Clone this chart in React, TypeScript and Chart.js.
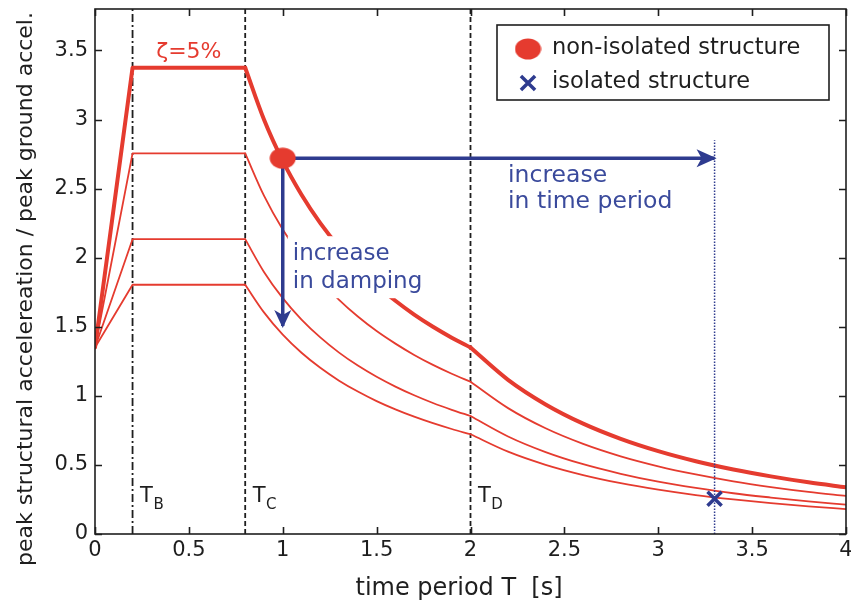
import React, { useEffect, useRef } from 'react';
import { Chart, registerables } from 'chart.js';
import { drawPoint } from 'chart.js/helpers';

Chart.register(...registerables);

// ---------- data ----------
const periods = [0, 0.2, 0.8, 0.9, 1.0, 1.1, 1.2, 1.3, 1.4, 1.5, 1.6, 1.7, 1.8, 1.9, 2.0, 2.2, 2.4, 2.6, 2.8, 3.0, 3.2, 3.4, 3.6, 3.8, 4.0];
const damping5 = [1.35, 3.375, 3.375, 3.0, 2.7, 2.455, 2.25, 2.077, 1.929, 1.8, 1.688, 1.588, 1.5, 1.421, 1.35, 1.116, 0.938, 0.799, 0.689, 0.6, 0.527, 0.467, 0.417, 0.374, 0.338];
const damping10 = [1.35, 2.755, 2.755, 2.449, 2.204, 2.004, 1.837, 1.695, 1.574, 1.469, 1.378, 1.296, 1.224, 1.16, 1.102, 0.911, 0.765, 0.652, 0.562, 0.49, 0.431, 0.381, 0.34, 0.305, 0.276];
const damping20 = [1.35, 2.134, 2.134, 1.897, 1.707, 1.552, 1.423, 1.313, 1.219, 1.138, 1.067, 1.004, 0.948, 0.899, 0.854, 0.706, 0.593, 0.505, 0.436, 0.379, 0.334, 0.295, 0.264, 0.236, 0.213];
const damping30 = [1.35, 1.804, 1.804, 1.604, 1.443, 1.312, 1.203, 1.11, 1.031, 0.962, 0.902, 0.849, 0.802, 0.76, 0.722, 0.596, 0.501, 0.427, 0.368, 0.321, 0.282, 0.25, 0.223, 0.2, 0.18];
const curveLabels = ['ζ=5%', 'ζ=10%', 'ζ=20%', 'ζ=30%'];

const cornerPeriods = [0.2, 0.8, 2.0];
const cornerNames = ['B', 'C', 'D'];

const nonIsolatedPoint = [1.0, 2.72];
const isolatedPoint = [3.3, 0.255];
const dampingArrowEnd = 1.505;
const periodLineTop = 2.85;

const xRange = [0, 4];
const yRange = [0, 3.8];
const xTickValues = [0, 0.5, 1, 1.5, 2, 2.5, 3, 3.5, 4];
const yTickValues = [0, 0.5, 1, 1.5, 2, 2.5, 3, 3.5];

const legendLabels = ['non-isolated structure', 'isolated structure'];
const dampingText = ['increase', 'in damping'];
const periodText = ['increase', 'in time period'];
const xTitle = 'time period T  [s]';
const yTitle = 'peak structural accelereation / peak ground accel.';

// ---------- styles ----------
const FONT = "'DejaVu Sans', 'Liberation Sans', Arial, sans-serif";
const RED = '#e53b2f';
const BLUE = '#2e3b8f';
const BLUE_TEXT = '#3a4a9c';
const INK = '#1e1e1e';

function makeDot() {
  const c = document.createElement('canvas');
  c.width = 27;
  c.height = 22;
  const g = c.getContext('2d') as CanvasRenderingContext2D;
  g.fillStyle = RED;
  g.beginPath();
  g.ellipse(13.5, 11, 13, 10.5, 0, 0, Math.PI * 2);
  g.fill();
  return c;
}

function arrowHead(ctx: CanvasRenderingContext2D, tx: number, ty: number, ux: number, uy: number, len: number, half: number, notch: number) {
  const px = -uy;
  const py = ux;
  ctx.beginPath();
  ctx.moveTo(tx, ty);
  ctx.lineTo(tx - ux * len + px * half, ty - uy * len + py * half);
  ctx.lineTo(tx - ux * (len - notch), ty - uy * (len - notch));
  ctx.lineTo(tx - ux * len - px * half, ty - uy * len - py * half);
  ctx.closePath();
  ctx.fill();
}

const decorPlugin = {
  id: 'decor',
  afterDatasetsDraw(chart: any) {
    const { ctx, chartArea: ca, scales } = chart;
    const x = scales.x;
    const y = scales.y;
    ctx.save();

    // arrow heads at the end of the arrow datasets
    chart.data.datasets.forEach((ds: any, i: number) => {
      if (!ds.arrowHead) return;
      const pts = chart.getDatasetMeta(i).data;
      const a = pts[pts.length - 2];
      const b = pts[pts.length - 1];
      const dx = b.x - a.x;
      const dy = b.y - a.y;
      const L = Math.hypot(dx, dy) || 1;
      const ux = dx / L;
      const uy = dy / L;
      ctx.fillStyle = ds.borderColor;
      arrowHead(ctx, b.x + ux * 2, b.y + uy * 2, ux, uy, ds.arrowHead.len, ds.arrowHead.half, ds.arrowHead.notch);
    });

    // "increase in damping" with white background
    const dX = x.getPixelForValue(nonIsolatedPoint[0]) + 10;
    const dY = y.getPixelForValue(nonIsolatedPoint[1]) + 102;
    ctx.fillStyle = '#ffffff';
    ctx.fillRect(dX - 5, dY - 24, 144, 62);
    ctx.fillStyle = BLUE_TEXT;
    ctx.font = `23px ${FONT}`;
    ctx.textAlign = 'left';
    ctx.textBaseline = 'alphabetic';
    ctx.fillText(dampingText[0], dX, dY);
    ctx.fillText(dampingText[1], dX, dY + 28);

    // "increase in time period"
    const pX = x.getPixelForValue(2.2);
    const pY = y.getPixelForValue(nonIsolatedPoint[1]) + 24;
    ctx.font = `23.5px ${FONT}`;
    ctx.fillText(periodText[0], pX, pY);
    ctx.fillText(periodText[1], pX, pY + 26);

    // zeta label above the plateau
    ctx.fillStyle = RED;
    ctx.font = `22px ${FONT}`;
    ctx.textAlign = 'center';
    ctx.fillText(curveLabels[0], x.getPixelForValue((cornerPeriods[0] + cornerPeriods[1]) / 2), y.getPixelForValue(damping5[1]) - 10);

    // corner period labels T_B, T_C, T_D
    ctx.fillStyle = INK;
    ctx.textAlign = 'left';
    cornerPeriods.forEach((c, i) => {
      const px = x.getPixelForValue(c) + 7.5;
      const base = ca.bottom - 32;
      ctx.font = `21px ${FONT}`;
      ctx.fillText('T', px, base);
      const w = ctx.measureText('T').width;
      ctx.font = `15px ${FONT}`;
      ctx.fillText(cornerNames[i], px + w + 0.5, base + 7);
    });
    ctx.restore();
  },
  afterDraw(chart: any) {
    const { ctx, chartArea: ca, scales } = chart;
    const x = scales.x;
    const y = scales.y;
    ctx.save();
    // box
    ctx.strokeStyle = INK;
    ctx.lineWidth = 1.6;
    ctx.strokeRect(ca.left, ca.top, ca.right - ca.left, ca.bottom - ca.top);
    // inward ticks on all four sides
    const tl = 7;
    ctx.beginPath();
    xTickValues.forEach((v) => {
      const px = Math.round(x.getPixelForValue(v)) + 0.5;
      ctx.moveTo(px, ca.bottom);
      ctx.lineTo(px, ca.bottom - tl);
      ctx.moveTo(px, ca.top);
      ctx.lineTo(px, ca.top + tl);
    });
    yTickValues.forEach((v) => {
      const py = Math.round(y.getPixelForValue(v)) + 0.5;
      ctx.moveTo(ca.left, py);
      ctx.lineTo(ca.left + tl, py);
      ctx.moveTo(ca.right, py);
      ctx.lineTo(ca.right - tl, py);
    });
    ctx.stroke();

    // legend
    const boxR = ca.right - 17;
    const boxL = boxR - 332;
    const boxT = ca.top + 16;
    const boxH = 75;
    ctx.fillStyle = '#ffffff';
    ctx.fillRect(boxL, boxT, boxR - boxL, boxH);
    ctx.strokeStyle = INK;
    ctx.lineWidth = 1.6;
    ctx.strokeRect(boxL, boxT, boxR - boxL, boxH);
    const rows = [boxT + 24, boxT + 58];
    legendLabels.forEach((lab, i) => {
      const ds = chart.data.datasets.find((d: any) => d.label === lab);
      if (!ds) return;
      ctx.save();
      ctx.strokeStyle = ds.pointBorderColor || RED;
      ctx.fillStyle = ds.pointBackgroundColor || RED;
      ctx.lineWidth = ds.pointBorderWidth || 1;
      drawPoint(ctx, { pointStyle: ds.pointStyle, radius: ds.pointRadius, borderWidth: ds.pointBorderWidth || 1, rotation: 0 }, boxL + 31, rows[i]);
      ctx.restore();
      ctx.fillStyle = INK;
      ctx.font = `22.5px ${FONT}`;
      ctx.textAlign = 'left';
      ctx.textBaseline = 'alphabetic';
      ctx.fillText(lab, boxL + 55, rows[i] + 5);
    });
    ctx.restore();
  },
};

export default function App() {
  const ref = useRef<HTMLCanvasElement>(null);
  useEffect(() => {
    const canvas = ref.current;
    if (!canvas) return;
    const dot = makeDot();
    // each response spectrum: straight rise + plateau, then two smooth decaying branches
    const pieces = [
      { from: 0, to: 2, mode: 'default' },
      { from: 2, to: 14, mode: 'monotone' },
      { from: 14, to: 24, mode: 'monotone' },
    ];
    const curveSets = (label: string, vals: number[], w: number) =>
      pieces.map((p) => ({
        label,
        data: periods.slice(p.from, p.to + 1).map((t, k) => ({ x: t, y: vals[p.from + k] })),
        borderColor: RED,
        borderWidth: w,
        borderCapStyle: 'round',
        borderJoinStyle: 'round',
        cubicInterpolationMode: p.mode,
        pointRadius: 0,
        fill: false,
        order: 3,
      }));
    const cornerDash = [[8, 3, 2, 3], [5, 3], [5, 3]];
    const datasets: any[] = [
      {
        label: legendLabels[0],
        data: [{ x: nonIsolatedPoint[0], y: nonIsolatedPoint[1] }],
        showLine: false,
        pointStyle: dot,
        pointRadius: 13,
        order: 0,
      },
      {
        label: legendLabels[1],
        data: [{ x: isolatedPoint[0], y: isolatedPoint[1] }],
        showLine: false,
        pointStyle: 'crossRot',
        pointRadius: 10,
        pointBorderWidth: 3.5,
        pointBorderColor: BLUE,
        pointBackgroundColor: BLUE,
        order: 0,
      },
      {
        label: 'arrow period',
        data: [{ x: nonIsolatedPoint[0], y: nonIsolatedPoint[1] }, { x: isolatedPoint[0], y: nonIsolatedPoint[1] }],
        borderColor: BLUE,
        borderWidth: 3.5,
        pointRadius: 0,
        order: 1,
        arrowHead: { len: 20, half: 9, notch: 5 },
      },
      {
        label: 'arrow damping',
        data: [{ x: nonIsolatedPoint[0], y: nonIsolatedPoint[1] }, { x: nonIsolatedPoint[0], y: dampingArrowEnd }],
        borderColor: BLUE,
        borderWidth: 3.5,
        pointRadius: 0,
        order: 1,
        arrowHead: { len: 18, half: 8.5, notch: 5 },
      },
      {
        label: 'isolated period',
        data: [{ x: isolatedPoint[0], y: yRange[0] }, { x: isolatedPoint[0], y: periodLineTop }],
        borderColor: BLUE,
        borderWidth: 1.5,
        borderDash: [1.5, 1.5],
        pointRadius: 0,
        order: 2,
      },
      ...cornerPeriods.map((c, i) => ({
        label: 'T' + cornerNames[i],
        data: [{ x: c, y: yRange[0] }, { x: c, y: yRange[1] }],
        borderColor: INK,
        borderWidth: 1.8,
        borderDash: cornerDash[i],
        pointRadius: 0,
        order: 4,
      })),
      ...curveSets(curveLabels[0], damping5, 4),
      ...curveSets(curveLabels[1], damping10, 1.8),
      ...curveSets(curveLabels[2], damping20, 1.8),
      ...curveSets(curveLabels[3], damping30, 1.8),
    ];

    const chart = new Chart(canvas, {
      type: 'line',
      data: { datasets },
      plugins: [decorPlugin as any],
      options: {
        responsive: false,
        animation: false,
        devicePixelRatio: 1,
        events: [],
        layout: { autoPadding: false, padding: { top: 9, right: 5, left: 0, bottom: 0 } },
        plugins: { legend: { display: false }, tooltip: { enabled: false } },
        scales: {
          x: {
            type: 'linear',
            min: xRange[0],
            max: xRange[1],
            afterBuildTicks: (s: any) => {
              s.ticks = xTickValues.map((v) => ({ value: v }));
            },
            afterFit: (s: any) => {
              s.height = 67;
              s.paddingLeft = 0;
              s.paddingRight = 0;
            },
            ticks: {
              callback: (v: any) => String(v),
              font: { family: FONT, size: 21 },
              color: INK,
              padding: 4,
              maxRotation: 0,
              autoSkip: false,
            },
            grid: { display: false, drawTicks: false },
            border: { display: false },
            title: {
              display: true,
              text: xTitle + '   ',
              font: { family: FONT, size: 24, lineHeight: 1 },
              color: INK,
              padding: { top: 0, bottom: 0 },
            },
          },
          y: {
            type: 'linear',
            min: yRange[0],
            max: yRange[1],
            afterBuildTicks: (s: any) => {
              s.ticks = yTickValues.map((v) => ({ value: v }));
            },
            afterFit: (s: any) => {
              s.width = 95;
              s.paddingTop = 0;
              s.paddingBottom = 0;
            },
            ticks: {
              callback: (v: any) => String(v),
              font: { family: FONT, size: 21 },
              color: INK,
              padding: 7,
              autoSkip: false,
            },
            grid: { display: false, drawTicks: false },
            border: { display: false },
            title: {
              display: true,
              text: yTitle + '     ',
              font: { family: FONT, size: 22, lineHeight: 1.2 },
              color: INK,
              padding: { top: 13, bottom: 0 },
            },
          },
        },
      } as any,
    });
    return () => chart.destroy();
  }, []);

  return (
    <div style={{ position: 'fixed', left: 0, top: 0, width: 851, height: 601, background: '#ffffff' }}>
      <canvas ref={ref} width={851} height={601} />
    </div>
  );
}
